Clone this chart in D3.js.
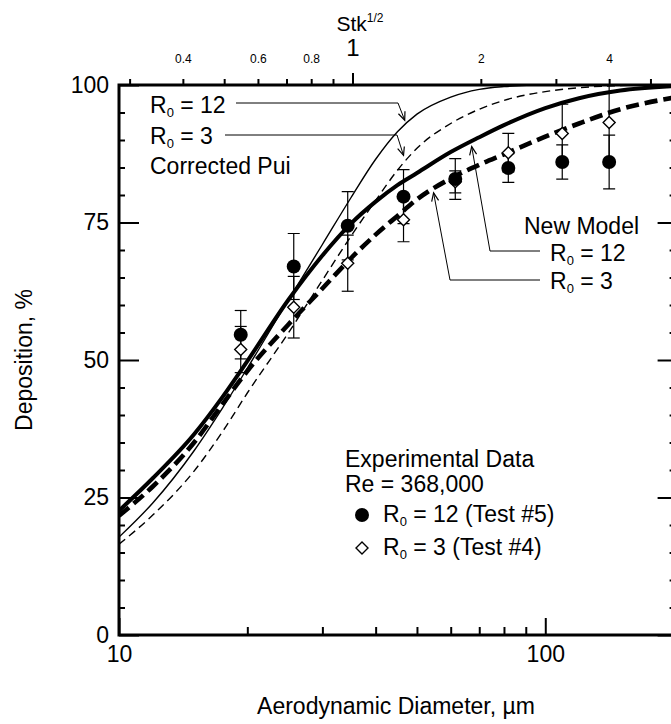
<!DOCTYPE html>
<html>
<head>
<meta charset="utf-8">
<script src="https://cdn.jsdelivr.net/npm/d3@7"></script>
<style>
  body { margin: 0; background: #fff; }
  text { font-family: "Liberation Sans", Arial, sans-serif; fill: #000; }
</style>
</head>
<body>
<svg id="chart" width="671" height="724"></svg>
<script>
// aerodynamic diameter grid (µm) for the model curves
const diam = [10, 12, 15, 17.5, 20, 25, 30, 35, 40, 45, 50, 60, 70, 80, 100, 120, 150, 200]
// Corrected Pui, thin lines
const puiR12 = [17.8, 24, 33.5, 41.3, 48.5, 61, 71, 79.5, 86.5, 91.5, 94.7, 97.8, 99.2, 99.7, 100, 100, 100, 100]
const puiR3  = [16.5, 21.8, 29.8, 37, 44, 55, 64.5, 72.5, 79, 84.5, 88.5, 93, 95.6, 97.2, 98.8, 99.5, 99.9, 100]
// New Model, thick lines
const nmR12  = [22.6, 28.5, 36.5, 43.3, 49.8, 61, 69, 74.8, 78.8, 81.8, 84, 87.8, 90.5, 92.7, 95.8, 97.6, 99, 99.8]
const nmR3   = [21.7, 27, 35, 42, 48, 56.5, 63, 68.5, 72.8, 76.2, 79.2, 83, 85.5, 87.4, 90.6, 93, 95.6, 97.7]

// experimental data, Re = 368,000
const expDiam   = [19.3, 25.7, 34.4, 46.5, 61.5, 81.9, 109.6, 141.2]
const test5     = [54.6, 67.0, 74.4, 79.7, 82.9, 84.9, 86.0, 86.0]   // R0 = 12
const test5Err  = [4.4, 6.0, 6.2, 4.9, 3.7, 2.6, 3.1, 4.9]
const test4     = [51.9, 59.6, 67.6, 75.5, 82.4, 87.7, 91.2, 93.2]   // R0 = 3
const test4Err  = [4.2, 5.6, 5.1, 4.0, 2.0, 3.5, 5.3, 6.8]

// axis ticks
const yMajor = [0, 25, 50, 75, 100]
const yMinor = d3.range(5, 100, 5).filter(v => v % 25 != 0)
const xMajor = [10, 100]
const xMinor = [20, 30, 40, 50, 60, 70, 80, 90, 200]
const stkMinor = [0.3, 0.4, 0.5, 0.6, 0.7, 0.8, 0.9, 2, 3, 4, 5]
const stkLabels = [0.4, 0.6, 0.8, 2, 4]
const stkOne = 35.3   // diameter where Stk^1/2 = 1

const svg = d3.select("#chart")
const L = 119, R = 673.6, T = 85, B = 635
const FS = 23

const x = d3.scaleLog().domain([10, 200]).range([L, R])
const y = d3.scaleLinear().domain([0, 100]).range([B, T])
const xTop = d3.scaleLog().domain([10 / stkOne, 200 / stkOne]).range([L, R])

svg.append("defs").append("clipPath").attr("id", "plot")
  .append("rect").attr("x", L).attr("y", T).attr("width", R - L).attr("height", B - T)

// ---- axes
function ticks(axis, tr, size, fmt) {
  const g = svg.append("g").attr("transform", tr)
    .call(axis.tickSize(size).tickFormat(fmt || ""))
  g.select(".domain").remove()
  g.selectAll(".tick line").attr("stroke", "#000").attr("stroke-width", 2)
  return g
}
ticks(d3.axisBottom(x).tickValues(xMinor), `translate(0,${B})`, -8)
const bx = ticks(d3.axisBottom(x).tickValues(xMajor).tickPadding(11), `translate(0,${B})`, -17, d3.format("d"))
bx.selectAll("text").attr("font-size", FS)

ticks(d3.axisLeft(y).tickValues(yMinor), `translate(${L},0)`, -6)
const ly = ticks(d3.axisLeft(y).tickValues(yMajor).tickPadding(10), `translate(${L},0)`, -20, d3.format("d"))
ly.selectAll("text").attr("font-size", FS)

ticks(d3.axisRight(y).tickValues(yMinor), `translate(${R},0)`, -4)
ticks(d3.axisRight(y).tickValues(yMajor), `translate(${R},0)`, -16)

ticks(d3.axisTop(xTop).tickValues(stkMinor), `translate(0,${T})`, 6)
const tl = ticks(d3.axisTop(xTop).tickValues(stkLabels).tickPadding(22), `translate(0,${T})`, 0, d => d)
tl.selectAll("text").attr("font-size", 12)
tl.selectAll("line").remove()
const t1 = ticks(d3.axisTop(xTop).tickValues([1]).tickPadding(17), `translate(0,${T})`, 12, d => d)
t1.selectAll("text").attr("font-size", 24)

svg.append("rect").attr("x", L).attr("y", T).attr("width", R - L).attr("height", B - T)
  .attr("fill", "none").attr("stroke", "#000").attr("stroke-width", 3)

// axis titles
const stk = svg.append("text").attr("x", 360).attr("y", 31).attr("font-size", 21).attr("text-anchor", "middle")
stk.append("tspan").text("Stk")
stk.append("tspan").attr("font-size", 12).attr("dy", -9).text("1/2")
svg.append("text").attr("x", 396).attr("y", 714).attr("font-size", FS).attr("text-anchor", "middle")
  .text("Aerodynamic Diameter, µm")
svg.append("text").attr("transform", "translate(32,360) rotate(-90)").attr("font-size", FS)
  .attr("text-anchor", "middle").text("Deposition, %")

// ---- curves
const line = d3.line().x(p => x(p[0])).y(p => y(p[1])).curve(d3.curveMonotoneX)
const curves = [
  { v: puiR12, w: 1.4, dash: null },
  { v: puiR3, w: 1.4, dash: "8,5" },
  { v: nmR12, w: 4, dash: null },
  { v: nmR3, w: 4.6, dash: "13,6" }
]
const cg = svg.append("g").attr("clip-path", "url(#plot)")
curves.forEach(c => {
  cg.append("path").datum(d3.zip(diam, c.v)).attr("d", line)
    .attr("fill", "none").attr("stroke", "#000").attr("stroke-width", c.w)
    .attr("stroke-dasharray", c.dash)
})

// ---- error bars and markers
function errBars(vals, errs) {
  const g = svg.append("g").attr("stroke", "#000").attr("stroke-width", 1.2).attr("clip-path", "url(#plot)")
  expDiam.forEach((d, i) => {
    const cx = x(d), y0 = y(vals[i] - errs[i]), y1 = y(vals[i] + errs[i])
    g.append("line").attr("x1", cx).attr("x2", cx).attr("y1", y0).attr("y2", y1)
    g.append("line").attr("x1", cx - 6).attr("x2", cx + 6).attr("y1", y0).attr("y2", y0)
    g.append("line").attr("x1", cx - 6).attr("x2", cx + 6).attr("y1", y1).attr("y2", y1)
  })
}
errBars(test5, test5Err)
errBars(test4, test4Err)

const diamond = (cx, cy, s) => `M${cx},${cy - s}L${cx + s},${cy}L${cx},${cy + s}L${cx - s},${cy}Z`
svg.append("g").selectAll("path").data(expDiam).join("path")
  .attr("d", (d, i) => diamond(x(d), y(test4[i]), 6))
  .attr("fill", "#fff").attr("stroke", "#000").attr("stroke-width", 1.4)
svg.append("g").selectAll("circle").data(expDiam).join("circle")
  .attr("cx", d => x(d)).attr("cy", (d, i) => y(test5[i])).attr("r", 7).attr("fill", "#000")

// ---- annotations
function rLabel(px, py, rest) {
  const t = svg.append("text").attr("x", px).attr("y", py).attr("font-size", FS)
  t.append("tspan").text("R")
  t.append("tspan").attr("font-size", 13).attr("dy", 4).text("0")
  t.append("tspan").attr("dy", -4).text(rest)
}
function leader(pts) {
  svg.append("path").attr("d", d3.line()(pts)).attr("fill", "none").attr("stroke", "#000").attr("stroke-width", 1)
  const [a, b] = pts.slice(-2)
  const ang = Math.atan2(b[1] - a[1], b[0] - a[0])
  const head = [-0.4, 0.4].map(o => [b[0] - 9 * Math.cos(ang + o), b[1] - 9 * Math.sin(ang + o)])
  svg.append("path").attr("d", d3.line()([head[0], b, head[1]])).attr("fill", "none")
    .attr("stroke", "#000").attr("stroke-width", 1.2)
}

rLabel(150, 113, " = 12")
rLabel(150, 144, " = 3")
svg.append("text").attr("x", 150).attr("y", 174).attr("font-size", FS).text("Corrected Pui")
leader([[236, 103], [398, 103], [x(46.8), y(93.6)]])
leader([[225, 135], [397, 135], [x(46.5), y(87.2)]])

svg.append("text").attr("x", 524).attr("y", 234).attr("font-size", FS).text("New Model")
rLabel(550, 261, " = 12")
rLabel(550, 289, " = 3")
leader([[540, 251], [490, 251], [x(67.2), y(88.8)]])
leader([[540, 280], [450, 280], [x(54.7), y(80.4)]])

svg.append("text").attr("x", 345).attr("y", 467).attr("font-size", FS).text("Experimental Data")
svg.append("text").attr("x", 345).attr("y", 492).attr("font-size", FS).text("Re = 368,000")
svg.append("circle").attr("cx", 362).attr("cy", 515).attr("r", 7).attr("fill", "#000")
rLabel(383, 522, " = 12 (Test #5)")
svg.append("path").attr("d", diamond(362, 548, 6)).attr("fill", "#fff").attr("stroke", "#000").attr("stroke-width", 1.4)
rLabel(383, 555, " = 3 (Test #4)")
</script>
</body>
</html>
